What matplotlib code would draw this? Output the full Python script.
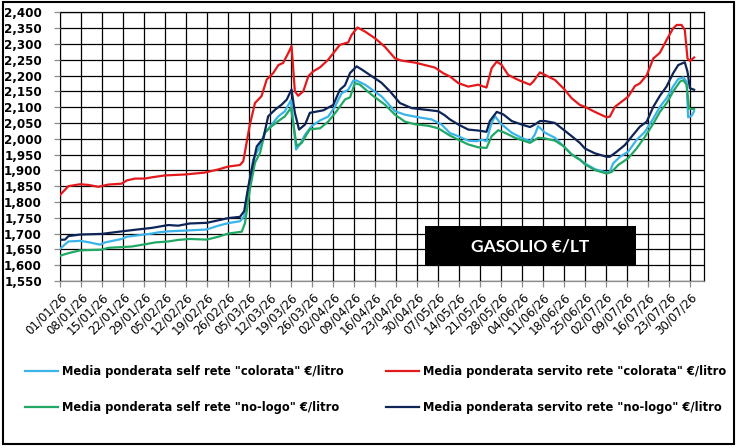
import matplotlib
matplotlib.use("Agg")
import matplotlib.pyplot as plt
import pandas as pd
from matplotlib.lines import Line2D
from matplotlib.patches import Rectangle
from matplotlib.ticker import FuncFormatter, MultipleLocator

# days since 01/01/26 and prices in EUR/litre
days_serv_col = [0, 2.8, 6.7, 9.4, 12.8, 16.1, 20.6, 22.2, 25, 28.3, 30.6, 35, 41.7, 48.3, 52.8, 56.1,
                 60, 61.1, 62.2, 63.3, 65, 67.2, 68.9, 71.1, 72.8, 74.4, 76.1, 77.2, 78.3, 79.4, 81.1,
                 82.8, 84.4, 86.7, 89.4, 93.3, 96.1, 97.2, 99.2, 101.7, 105, 108.3, 111.7, 113.9,
                 118.3, 121.7, 125, 127.8, 130, 132.8, 136.1, 139.4, 142.2, 143.9, 145.6, 147.2,
                 149.4, 152.8, 156.7, 157.8, 160, 161.7, 165, 167.8, 170.6, 173.3, 175, 178.3, 182.2,
                 183.3, 185, 187.2, 189.4, 191.7, 193.3, 195.6, 197.8, 200, 202.2, 204.4, 205.6,
                 207.2, 208.3, 209.2, 210, 211.4]
serv_col = [1.822, 1.850, 1.856, 1.854, 1.848, 1.855, 1.858, 1.868, 1.874, 1.874, 1.878, 1.884, 1.887,
            1.893, 1.903, 1.912, 1.917, 1.929, 1.987, 2.045, 2.113, 2.135, 2.187, 2.208, 2.233, 2.240,
            2.271, 2.293, 2.150, 2.136, 2.150, 2.198, 2.213, 2.226, 2.250, 2.297, 2.305, 2.328, 2.352,
            2.339, 2.318, 2.291, 2.254, 2.247, 2.241, 2.233, 2.225, 2.207, 2.197, 2.176, 2.165, 2.171,
            2.162, 2.223, 2.244, 2.234, 2.202, 2.186, 2.171, 2.181, 2.210, 2.202, 2.186, 2.160, 2.128,
            2.107, 2.101, 2.085, 2.068, 2.070, 2.101, 2.117, 2.133, 2.167, 2.175, 2.201, 2.254, 2.272,
            2.312, 2.349, 2.360, 2.360, 2.344, 2.254, 2.246, 2.257]

days_serv_nl = [0, 1.7, 2.8, 6.7, 13.9, 20.6, 25, 30.6, 36.1, 39.4, 43.3, 48.9, 52.8, 56.1, 60, 61.4,
                62.8, 63.9, 65.6, 67.8, 69.4, 71.7, 73.9, 75.6, 77.2, 78.3, 79.7, 81.7, 83.3, 85, 87.8,
                91.1, 93.3, 95, 96.7, 98.9, 100.6, 103.9, 107.2, 110, 113.3, 117.2, 121.7, 126.1,
                128.3, 130, 132.8, 136.1, 139.4, 142.2, 143.3, 145.6, 147.8, 150.6, 153.9, 156.7,
                158.3, 160, 161.7, 165, 167.8, 170.6, 173.3, 175, 178.3, 182.2, 183.3, 185.6, 188.3,
                190.6, 193.3, 195.6, 197.8, 200, 202.2, 204.4, 206.1, 208.3, 209.2, 210, 211.4]
serv_nl = [1.680, 1.681, 1.692, 1.697, 1.699, 1.707, 1.712, 1.718, 1.727, 1.725, 1.732, 1.734, 1.742,
           1.749, 1.753, 1.771, 1.850, 1.902, 1.976, 2.002, 2.071, 2.092, 2.108, 2.124, 2.156, 2.082,
           2.029, 2.045, 2.082, 2.085, 2.090, 2.107, 2.155, 2.169, 2.208, 2.229, 2.219, 2.198, 2.177,
           2.150, 2.113, 2.097, 2.092, 2.087, 2.074, 2.061, 2.045, 2.029, 2.026, 2.022, 2.056, 2.085,
           2.077, 2.056, 2.045, 2.037, 2.045, 2.056, 2.056, 2.050, 2.029, 2.008, 1.987, 1.969, 1.954,
           1.943, 1.943, 1.959, 1.980, 2.007, 2.038, 2.054, 2.101, 2.136, 2.165, 2.207, 2.233, 2.242,
           2.212, 2.160, 2.155]

days_self_col = [0, 2.8, 6.7, 9.4, 13.3, 15, 20.6, 22.2, 27.2, 30.6, 32.8, 36.1, 42.8, 48.9, 52.8, 56.1,
                 60, 61.4, 62.8, 64.4, 66.1, 68.3, 70.6, 72.8, 75, 77, 78.7, 80, 81.7, 83.9, 86.7, 89.4,
                 91.7, 93.9, 96.1, 97.8, 98.9, 101.7, 107.2, 111.7, 115, 119.4, 123.9, 127.2, 130,
                 132.8, 136.1, 138.9, 140.6, 142.2, 143.7, 145, 146.7, 150.6, 153.9, 156.7, 158.3,
                 159.4, 161.7, 165, 167.8, 170.6, 173.3, 175, 178.3, 182.2, 183.3, 184.4, 186.7,
                 189.4, 192.2, 195, 197.8, 200, 202.2, 204.4, 206.1, 207.8, 208.9, 209.4, 210.6, 211.4]
self_col = [1.652, 1.675, 1.677, 1.673, 1.665, 1.672, 1.683, 1.690, 1.696, 1.700, 1.704, 1.707, 1.710,
            1.713, 1.725, 1.733, 1.739, 1.755, 1.840, 1.935, 1.966, 2.019, 2.045, 2.071, 2.087, 2.122,
            1.966, 1.982, 2.013, 2.040, 2.058, 2.070, 2.102, 2.144, 2.155, 2.184, 2.184, 2.171, 2.134,
            2.087, 2.076, 2.068, 2.061, 2.045, 2.018, 2.008, 1.994, 1.992, 1.997, 1.992, 2.045, 2.072,
            2.050, 2.019, 2.003, 1.992, 2.013, 2.040, 2.019, 2.003, 1.977, 1.950, 1.934, 1.922, 1.904,
            1.893, 1.895, 1.922, 1.943, 1.959, 1.996, 2.022, 2.064, 2.101, 2.128, 2.165, 2.189, 2.194,
            2.181, 2.068, 2.073, 2.087]

days_self_nl = [0, 2.8, 6.7, 13.9, 16.1, 23.9, 28.3, 31.7, 36.1, 39.4, 43.3, 48.9, 52.8, 56.1, 60.6,
                61.7, 63.3, 65, 66.7, 68.3, 70.6, 72.8, 75, 77, 78.9, 80.6, 82.2, 83.3, 86.7, 89.4,
                92.2, 95, 96.7, 98.3, 100, 103.9, 108.3, 111.7, 115, 118.3, 122.8, 126.1, 128.3, 130,
                132.8, 136.1, 139.4, 142.2, 143.9, 146.1, 148.3, 151.7, 156.7, 159.4, 161.7, 165,
                167.8, 170.6, 173.3, 175, 178.3, 182.2, 183.9, 186.1, 189.4, 192.2, 195, 197.8, 200,
                202.2, 204.4, 206.7, 207.8, 208.9, 209.7, 210.6, 211.4]
self_nl = [1.630, 1.638, 1.647, 1.649, 1.655, 1.659, 1.666, 1.672, 1.675, 1.680, 1.683, 1.681, 1.690,
           1.700, 1.706, 1.734, 1.840, 1.924, 1.956, 2.019, 2.040, 2.056, 2.071, 2.098, 1.977, 1.987,
           2.013, 2.030, 2.033, 2.054, 2.087, 2.124, 2.131, 2.176, 2.171, 2.139, 2.108, 2.076, 2.054,
           2.046, 2.041, 2.033, 2.020, 2.010, 1.997, 1.982, 1.973, 1.971, 2.008, 2.027, 2.019, 2.003,
           1.987, 2.003, 2.001, 1.994, 1.977, 1.950, 1.934, 1.919, 1.901, 1.890, 1.895, 1.917, 1.938,
           1.969, 2.006, 2.048, 2.085, 2.112, 2.149, 2.181, 2.185, 2.171, 2.096, 2.094, 2.094]

labels = ['Media ponderata self rete "colorata" €/litro',
          'Media ponderata servito rete "colorata" €/litro',
          'Media ponderata self rete "no-logo" €/litro',
          'Media ponderata servito rete "no-logo" €/litro']
colors = ["#3AB4E8", "#E4191C", "#22A865", "#0E2558"]

tick_days = list(range(0, 211, 7))
tick_labels = pd.date_range("2026-01-01", periods=len(tick_days), freq="7D").strftime("%d/%m/%y")

fig = plt.figure(figsize=(7.4, 4.48), dpi=100)
ax = fig.add_axes([60 / 740, 1 - 281 / 448, 644 / 740, (281 - 12.3) / 448])

series = [(days_self_col, self_col), (days_serv_col, serv_col),
          (days_self_nl, self_nl), (days_serv_nl, serv_nl)]
# draw order: red, light blue, green, navy on top
for i in [1, 0, 2, 3]:
    x, y = series[i]
    ax.plot(x, y, color=colors[i], lw=1.6, zorder=5, solid_joinstyle="round")

ax.set_xlim(0, 214.7)
ax.set_ylim(1.55, 2.40)
ax.yaxis.set_major_locator(MultipleLocator(0.05))
ax.yaxis.set_major_formatter(FuncFormatter(lambda v, p: f"{v:.3f}".replace(".", ",")))
ax.set_xticks(tick_days)
ax.set_xticklabels(tick_labels, rotation=45, ha="right", va="top", rotation_mode="anchor", fontsize=8.5)
for t in ax.get_yticklabels():
    t.set_fontweight("bold")
    t.set_fontsize(8.6)
ax.tick_params(axis="both", direction="out", length=4, color="#8c8c8c", width=0.9)
ax.tick_params(axis="y", pad=9)
ax.tick_params(axis="x", pad=3)
ax.spines["left"].set_color("#8c8c8c")
ax.spines["bottom"].set_color("#8c8c8c")
ax.spines["top"].set_color("black")
ax.spines["right"].set_color("black")
for s in ax.spines.values():
    s.set_linewidth(0.9)

# grid: one line per week and per 0,050
ax.set_axisbelow(False)
ax.grid(True, color="black", linewidth=0.9, linestyle="-", alpha=1.0)
ax.xaxis.set_zorder(4)
ax.yaxis.set_zorder(4)

# title box
fig.add_artist(Rectangle((425 / 740, 1 - 266 / 448), 211 / 740, 40 / 448,
                         transform=fig.transFigure, facecolor="black", edgecolor="none", zorder=5))
fig.text(530 / 740, 1 - 246 / 448, "GASOLIO €/LT", color="white", fontsize=12.5, fontweight="bold",
         family=["Lato", "DejaVu Sans"], ha="center", va="center", zorder=6)

# legend, two columns
leg_pos = [(25, 371), (386, 371), (25, 407), (386, 407)]
for (lx, ly), lab, col in zip(leg_pos, labels, colors):
    fig.add_artist(Line2D([lx / 740, (lx + 33) / 740], [1 - ly / 448, 1 - ly / 448],
                          transform=fig.transFigure, color=col, lw=1.6))
    fig.text((lx + 37) / 740, 1 - ly / 448, lab, fontsize=8.3, fontweight="bold",
             ha="left", va="center")

# outer frame
fig.add_artist(Rectangle((3 / 740, 4 / 448), 731 / 740, 442 / 448, transform=fig.transFigure,
                         fill=False, edgecolor="black", lw=1.5, zorder=10))

fig.savefig("out.png", dpi=100)
